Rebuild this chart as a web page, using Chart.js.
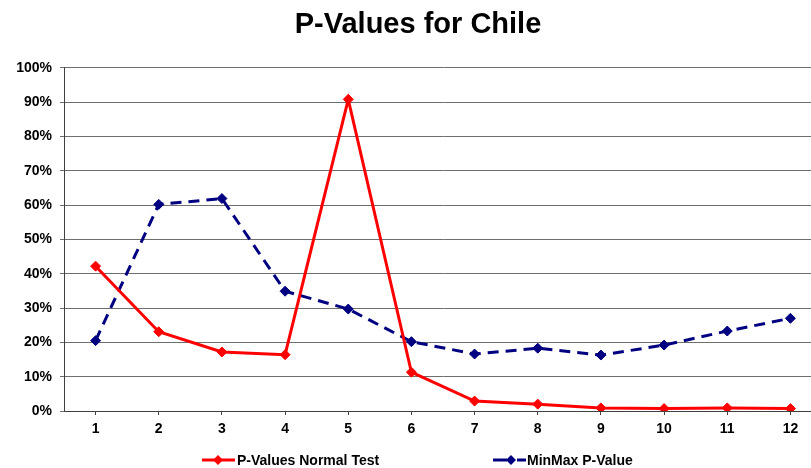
<!DOCTYPE html>
<html lang="en">
<head>
    <meta charset="UTF-8">
    <title>P-Values for Chile</title>
    <style>
        body {
            margin: 0;
            padding: 0;
            background-color: white;
            overflow: hidden;
        }
        #chartBox {
            width: 836px;
            height: 468px;
        }
    </style>
</head>
<body>
    <div id="chartBox">
        <canvas id="pChart" width="836" height="468"></canvas>
    </div>
    <script src="https://cdn.jsdelivr.net/npm/chart.js"></script>
    <script>
        const periods = ["1", "2", "3", "4", "5", "6", "7", "8", "9", "10", "11", "12"];
        const normalTest = [42.2, 23.1, 17.2, 16.4, 90.8, 11.3, 2.9, 2.0, 0.9, 0.7, 0.9, 0.7];
        const minMax = [20.5, 60.2, 61.9, 34.9, 29.7, 20.2, 16.6, 18.3, 16.3, 19.2, 23.3, 27.0];
        const yTicks = [0, 10, 20, 30, 40, 50, 60, 70, 80, 90, 100];

        const fontFam = "'Liberation Sans', Arial, sans-serif";

        // legend drawn by hand so it sits where the original one does
        const bottomLegend = {
            id: "bottomLegend",
            afterDraw(chart) {
                const ctx = chart.ctx;
                const y = 460;
                ctx.save();
                ctx.lineWidth = 3;

                // red solid line + diamond
                ctx.strokeStyle = "#ff0000";
                ctx.beginPath();
                ctx.moveTo(202, y);
                ctx.lineTo(235, y);
                ctx.stroke();
                diamond(ctx, 218, y, "#ff0000");

                // navy dashed line + diamond
                ctx.strokeStyle = "#000080";
                ctx.beginPath();
                ctx.moveTo(493, y);
                ctx.lineTo(507, y);
                ctx.moveTo(517, y);
                ctx.lineTo(526, y);
                ctx.stroke();
                diamond(ctx, 511, y, "#000080");

                ctx.fillStyle = "#000";
                ctx.font = "bold 14px " + fontFam;
                ctx.textBaseline = "middle";
                ctx.textAlign = "left";
                ctx.fillText(chart.data.datasets[0].label, 237, y + 1);
                ctx.fillText(chart.data.datasets[1].label, 527, y + 1);
                ctx.restore();
            }
        };

        function diamond(ctx, x, y, color) {
            ctx.fillStyle = color;
            ctx.beginPath();
            ctx.moveTo(x, y - 5);
            ctx.lineTo(x + 5, y);
            ctx.lineTo(x, y + 5);
            ctx.lineTo(x - 5, y);
            ctx.closePath();
            ctx.fill();
        }

        new Chart(document.getElementById("pChart"), {
            type: "line",
            data: {
                labels: periods,
                datasets: [
                    {
                        label: "P-Values Normal Test",
                        data: normalTest,
                        borderColor: "#ff0000",
                        backgroundColor: "#ff0000",
                        borderWidth: 3,
                        pointStyle: "rectRot",
                        pointRadius: 5,
                        pointBorderWidth: 1,
                        tension: 0
                    },
                    {
                        label: "MinMax P-Value",
                        data: minMax,
                        borderColor: "#000080",
                        backgroundColor: "#000080",
                        borderWidth: 3,
                        borderDash: [11, 7],
                        pointStyle: "rectRot",
                        pointRadius: 5,
                        pointBorderWidth: 1,
                        tension: 0
                    }
                ]
            },
            options: {
                responsive: false,
                devicePixelRatio: 1,
                animation: false,
                layout: {
                    padding: { left: 14, right: 14, top: 0, bottom: 0 }
                },
                plugins: {
                    legend: { display: false },
                    tooltip: { enabled: false },
                    title: {
                        display: true,
                        text: "P-Values for Chile",
                        color: "#000",
                        font: { family: fontFam, size: 29, weight: "bold", lineHeight: 1.2 },
                        padding: { top: 8, bottom: 25 }
                    }
                },
                scales: {
                    x: {
                        offset: true,
                        grid: {
                            display: true,
                            drawOnChartArea: false,
                            drawTicks: true,
                            tickLength: 4,
                            color: "#404040"
                        },
                        border: { color: "#404040", width: 1 },
                        ticks: {
                            color: "#000",
                            padding: 6,
                            maxRotation: 0,
                            font: { family: fontFam, size: 14, weight: "bold" }
                        },
                        afterFit(scale) {
                            scale.height = 57;
                        }
                    },
                    y: {
                        min: 0,
                        max: 100,
                        afterBuildTicks(scale) {
                            scale.ticks = yTicks.map(v => ({ value: v }));
                        },
                        grid: {
                            color: "#6e6e6e",
                            lineWidth: 1,
                            tickLength: 4
                        },
                        border: { color: "#404040", width: 1 },
                        ticks: {
                            color: "#000",
                            padding: 8,
                            font: { family: fontFam, size: 14, weight: "bold" },
                            callback: v => v + "%"
                        },
                        afterFit(scale) {
                            scale.width = 50;
                        }
                    }
                }
            },
            plugins: [bottomLegend]
        });
    </script>
</body>
</html>
